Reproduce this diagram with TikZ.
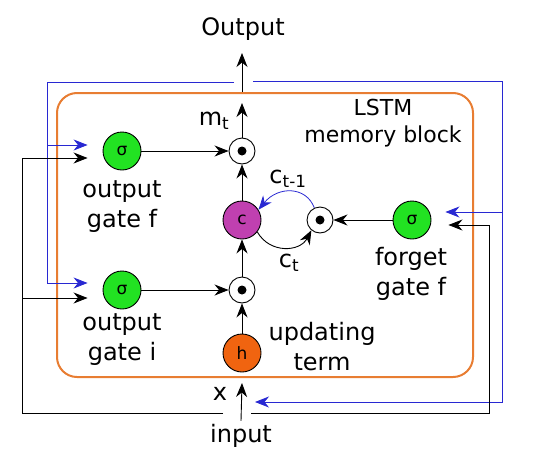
\documentclass[tikz,border=0pt]{standalone}
\usepackage{fontspec}
\setmainfont{DejaVu Sans}
\usetikzlibrary{arrows.meta,positioning}

\definecolor{gategreen}{RGB}{34,226,34}
\definecolor{cellpurple}{RGB}{192,64,176}
\definecolor{termorange}{RGB}{240,100,16}
\definecolor{blockorange}{RGB}{232,125,50}
\definecolor{loopblue}{RGB}{40,40,210}

\tikzset{
  unit/.style={circle,draw,line width=0.9pt,minimum size=38pt,inner sep=0pt,
    font=\fontsize{17}{17}\selectfont},
  mult/.style={circle,draw,line width=0.9pt,minimum size=26pt,inner sep=0pt},
  lbl/.style={align=center},
  arr/.style={line width=0.9pt,-{Stealth[length=14pt,width=11pt,inset=4.5pt]}},
  fb/.style={arr,loopblue,line width=0.8pt},
}

\begin{document}
\begin{tikzpicture}[x=1pt,y=-1pt,font=\fontsize{24}{30}\selectfont]
  \useasboundingbox (0,0) rectangle (534,455);
  % memory block
  \node[draw=blockorange,line width=2pt,rounded corners=20pt,inner sep=0pt,
    minimum width=416pt,minimum height=284pt] (block) at (265,235) {};
  \node[lbl,font=\fontsize{22}{27}\selectfont] (title) at (383,123) {LSTM\\memory block};

  % units
  \node[unit,fill=gategreen] (go) at (122,151) {σ};
  \node[unit,fill=gategreen] (gi) at (122,290) {σ};
  \node[unit,fill=gategreen] (gf) at (412,220) {σ};
  \node[unit,fill=cellpurple] (c) at (242,220) {c};
  \node[unit,fill=termorange] (h) at (242,353) {h};
  \node[mult] (mo) at (242,151) {};
  \node[mult] (mi) at (242,290) {};
  \node[mult] (mf) at (320,220) {};
  \foreach \m in {mo,mi,mf}
      \fill (\m) circle (4.5pt);

  % labels
  \node[lbl] (lgo) at (122,207) {output\\gate f};
  \node[lbl] (lgi) at (122,340) {output\\gate i};
  \node[lbl] (lgf) at (411,274) {forget\\gate f};
  \node[lbl] (lh) at (322,347) {updating\\term};
  \node (mt) at (214,121) {m\textsubscript{t}};
  \node (cold) at (288,179) {c\textsubscript{t-1}};
  \node (cnew) at (289,263) {c\textsubscript{t}};
  \node (x) at (220,394) {x};
  \node (Out) at (243,29) {Output};
  \node (In) at (241,436) {input};

  % free ends
  \coordinate (otop) at (242,103);
  \coordinate (otip) at (242,53);
  \coordinate (itip) at (242,383);
  \coordinate (fbL) at (234,82);
  \coordinate (fbR) at (253,81);
  \coordinate (bl) at (47,82);
  \coordinate (br) at (502,81);
  \coordinate (bin) at (255,402);
  \coordinate (kL) at (223,413);
  \coordinate (kR) at (251,413);
  \coordinate (kl) at (22,413);
  \coordinate (kr) at (489,413);

  % data flow
  \draw[arr] (go) -- (mo);
  \draw[arr] (gi) -- (mi);
  \draw[arr] (gf) -- (mf);
  \draw[arr] (h) -- (mi);
  \draw[arr] (mi) -- (c);
  \draw[arr] (c) -- (mo);
  \draw[arr] (mo) -- (otop);
  \draw[arr] (mo.north |- block.north) -- (otip);
  \draw[arr] (In.north) -- (itip);
  \draw[fb] (mf.115) .. controls (306,186) and (278,186) .. (c.32);
  \draw[arr] (c.-38) .. controls (270,254) and (300,252) .. (mf.-130);

  % recurrent inputs
  \draw[fb] (fbL) -- (bl) |- ([xshift=-15pt,yshift=7pt]gi.west);
  \draw[fb] ([yshift=6pt]go.west -| bl) -- ([xshift=-15pt,yshift=6pt]go.west);
  \draw[fb] (fbR) -- (br) |- (bin);
  \draw[fb] ([yshift=8pt]gf.east -| br) -- ([xshift=14pt,yshift=8pt]gf.east);
  \draw[arr] (kL) -- (kl) |- ([xshift=-15pt,yshift=-7pt]go.west);
  \draw[arr] ([yshift=-8pt]gi.west -| kl) -- ([xshift=-15pt,yshift=-8pt]gi.west);
  \draw[arr] (kR) -- (kr) |- ([xshift=17pt,yshift=-5pt]gf.east);
\end{tikzpicture}
\end{document}
